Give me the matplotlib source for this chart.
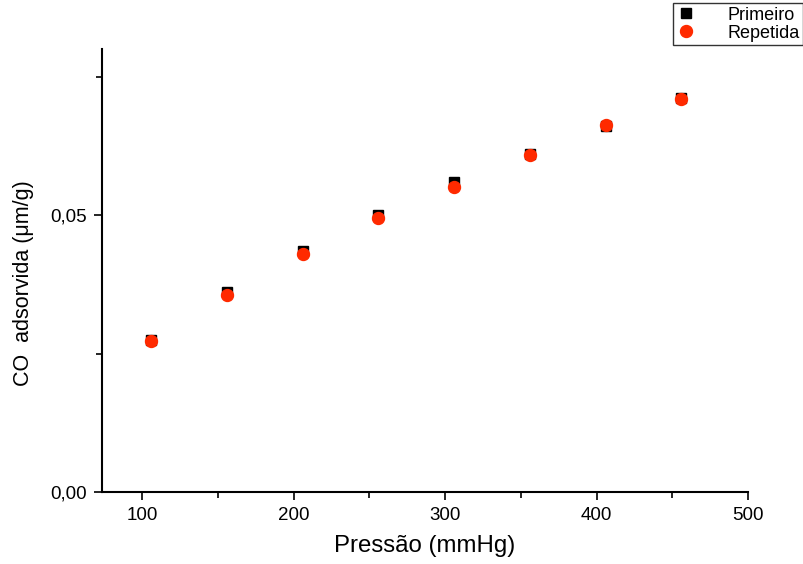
import matplotlib.pyplot as plt
from matplotlib.ticker import MultipleLocator, FuncFormatter

plt.rcParams['font.family'] = ['Liberation Sans', 'DejaVu Sans']

pressure = [106, 156, 206, 256, 306, 356, 406, 456]
primeiro = [0.02744, 0.0361, 0.0435, 0.0500, 0.0560, 0.0612, 0.0661, 0.0713]
repetida = [0.02726, 0.0357, 0.0430, 0.0495, 0.0552, 0.0610, 0.0664, 0.0711]

fig = plt.figure(figsize=(8.04, 5.64), dpi=100)
ax = fig.add_axes([102 / 804, 72 / 564, 646 / 804, 443 / 564])

ax.plot(pressure, primeiro, 's', color='black', markersize=7.2, label='Primeiro',
        linestyle='none')
ax.plot(pressure, repetida, 'o', color='#ff2a00', markersize=8.6, label='Repetida',
        linestyle='none')

ax.set_xlim(73.5, 500)
ax.set_ylim(0, 0.0801)

ax.spines['top'].set_visible(False)
ax.spines['right'].set_visible(False)
for s in ('left', 'bottom'):
    ax.spines[s].set_linewidth(1.5)

ax.xaxis.set_major_locator(MultipleLocator(100))
ax.xaxis.set_minor_locator(MultipleLocator(50))
ax.yaxis.set_major_locator(MultipleLocator(0.05))
ax.yaxis.set_minor_locator(MultipleLocator(0.025))
ax.yaxis.set_major_formatter(FuncFormatter(lambda v, _: '{:.2f}'.format(v).replace('.', ',')))

ax.tick_params(which='both', direction='out', width=1.2, labelsize=13.5, pad=5)
ax.tick_params(which='major', length=6)
ax.tick_params(which='minor', length=4)

ax.set_xlabel('Pressão (mmHg)', fontsize=17.3, labelpad=8)
ax.set_ylabel('CO  adsorvida (μm/g)', fontsize=15.5)
ax.yaxis.set_label_coords(-0.105, 0.472)

leg = ax.legend(loc='upper right', bbox_to_anchor=(803 / 804, 1 - 3 / 564),
                bbox_transform=fig.transFigure, borderaxespad=0, fontsize=13,
                frameon=True, fancybox=False, edgecolor='black', borderpad=0.2,
                handlelength=1.0, handletextpad=1.8, labelspacing=0.05)
leg.get_frame().set_linewidth(1.0)

fig.savefig('out.png', dpi=100)
